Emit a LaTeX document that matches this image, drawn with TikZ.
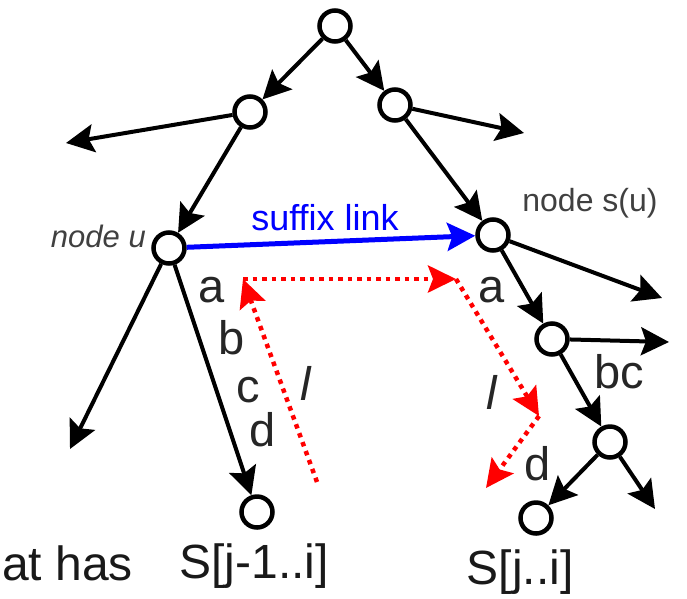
\documentclass[tikz,border=0pt]{standalone}
\usepackage{fontspec}
\setmainfont{Liberation Sans}
\usetikzlibrary{arrows.meta}
\begin{document}
\begin{tikzpicture}[x=1pt,y=-1pt,
  vtx/.style={circle,draw=black,line width=4.5pt,fill=white,minimum size=31pt,inner sep=0pt},
  treeedge/.style={line width=4pt,black,-{Stealth[length=28pt,width=28pt,inset=5pt]}},
  slink/.style={line width=5pt,blue,-{Stealth[length=28pt,width=28pt,inset=5pt]}},
  redarr/.style={line width=4.5pt,red,dash pattern=on 4.5pt off 5pt,-{Stealth[length=28pt,width=27pt,inset=5pt]}},
  big/.style={font=\fontsize{47}{50}\selectfont,text=black!85,inner sep=0pt},
  lbl/.style={font=\fontsize{48}{52}\selectfont,text=black!90,inner sep=0pt},
  small/.style={font=\fontsize{32}{35}\selectfont,text=black!75,inner sep=0pt}
]
\useasboundingbox (0,0) rectangle (687,598);
% vertices
\node[vtx] (root) at (335,26) {};
\node[vtx] (lc) at (250,112) {};
\node[vtx] (rc) at (395,105) {};
\node[vtx] (u) at (169,248) {};
\node[vtx] (su) at (493,235) {};
\node[vtx] (sc) at (552,339) {};
\node[vtx] (sd) at (610,442) {};
\node[vtx] (leafL) at (257,512) {};
\node[vtx] (leafR) at (536,518) {};
% free ends
\coordinate (lcL) at (66,143);
\coordinate (rcR) at (524,133);
\coordinate (uL) at (70,449);
\coordinate (suR) at (662,298);
\coordinate (scR) at (669,342);
\coordinate (sdR) at (655,509);
% black edges
\draw[treeedge] (root) -- (lc);
\draw[treeedge] (root) -- (rc);
\draw[treeedge] (lc) -- (lcL);
\draw[treeedge] (lc) -- (u);
\draw[treeedge] (rc) -- (rcR);
\draw[treeedge] (rc) -- (su);
\draw[treeedge] (su) -- (suR);
\draw[treeedge] (su) -- (sc);
\draw[treeedge] (sc) -- (scR);
\draw[treeedge] (sc) -- (sd);
\draw[treeedge] (sd) -- (leafR);
\draw[treeedge] (sd) -- (sdR);
\draw[treeedge] (u) -- (uL);
\draw[treeedge] (u) -- (leafL);
% suffix link
\draw[slink] (u) -- (su);
% red walk
\coordinate (r1) at (317,482);
\coordinate (r2) at (243,279);
\coordinate (r3) at (456,279);
\coordinate (r4) at (539,416);
\coordinate (r5) at (486,488);
\draw[redarr] (r1) -- (r2);
\draw[redarr] (r2) -- (r3);
\draw[redarr] (r3) -- (r4);
\draw[redarr] (r4) -- (r5);
% labels
\node[small,font=\fontsize{31}{34}\selectfont\itshape,anchor=east] (nu) at (146,236) {node u};
\node[small] (nsu) at (590,203) {node s(u)};
\node[inner sep=0pt,text=blue,font=\fontsize{36}{39}\selectfont] (sl) at (325,218) {suffix link};
\node[big] (la) at (212,290) {a};
\node[big] (lb) at (232,338) {b};
\node[big] (lcc) at (248,390) {c};
\node[big] (ld) at (263,430) {d};
\node[big,font=\fontsize{47}{50}\selectfont\itshape] (ll) at (306,383) {l};
\node[big] (ra) at (492,290) {a};
\node[big,font=\fontsize{47}{50}\selectfont\itshape] (rl) at (492,392) {l};
\node[big] (rbc) at (619,372) {bc};
\node[big] (rd) at (538,464) {d};
\node[lbl] (sL) at (254,566) {S[j-1..i]};
\node[lbl] (sR) at (520,572) {S[j..i]};
\node[lbl,anchor=base east] (has) at (133,580) {at has};
\end{tikzpicture}
\end{document}
